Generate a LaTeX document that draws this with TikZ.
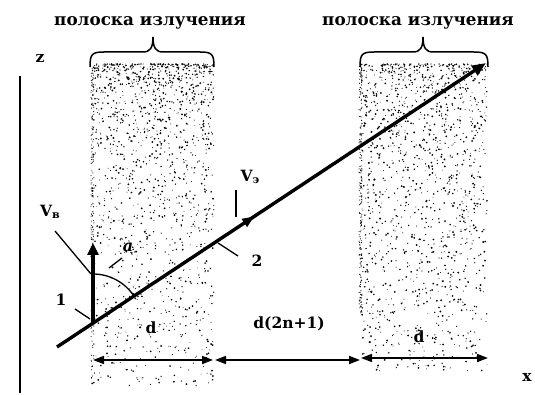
\documentclass[tikz,border=0pt]{standalone}
\usepackage{fontspec}
\setmainfont{DejaVu Serif}
\usetikzlibrary{arrows.meta,decorations.markings}
\newcommand{\mysub}[1]{\raisebox{-0.25ex}{\fontsize{11}{11}\selectfont #1}}
\begin{document}
\begin{tikzpicture}[x=1pt,y=-1pt,
  lbl/.style={font=\bfseries\fontsize{15.5}{16}\selectfont, inner sep=0pt},
  title/.style={font=\bfseries\fontsize{16.8}{17}\selectfont, inner sep=0pt},
  ptr/.style={line width=1.3pt},
  dim/.style={line width=1.6pt,{Triangle[length=11pt,width=8pt]}-{Triangle[length=11pt,width=8pt]}},
  brc/.style={line width=1.5pt}]
\useasboundingbox (0,0) rectangle (535,395);
% stippled strips
\pgfmathsetseed{11}
\foreach \i in {1,...,1400}{
  \pgfmathsetmacro\xx{92+122*rnd}
  \pgfmathsetmacro\yy{64+322*(rnd^1.9)}
  \pgfmathsetmacro\rr{0.4+0.65*rnd}
  \fill (\xx,\yy) circle (\rr pt);
}
\foreach \i in {1,...,200}{
  \pgfmathsetmacro\xx{91+3*rnd}
  \pgfmathsetmacro\yy{64+320*rnd}
  \fill (\xx,\yy) circle (0.55pt);
}
\foreach \i in {1,...,1400}{
  \pgfmathsetmacro\xx{360+127*rnd}
  \pgfmathsetmacro\yy{64+308*(rnd^1.6)}
  \pgfmathsetmacro\rr{0.4+0.65*rnd}
  \fill (\xx,\yy) circle (\rr pt);
}
\foreach \i in {1,...,200}{
  \pgfmathsetmacro\xx{359+3*rnd}
  \pgfmathsetmacro\yy{64+250*rnd}
  \fill (\xx,\yy) circle (0.55pt);
}
% titles and braces
\node[title] (t1) at (150,23) {полоска излучения};
\node[title] (t2) at (418,23) {полоска излучения};
\coordinate (b1l) at (90,67);
\coordinate (b1r) at (214,67);
\coordinate (b1t) at (153,37);
\coordinate (b2l) at (360,67);
\coordinate (b2r) at (488,67);
\coordinate (b2t) at (423,37);
\draw[brc] (b1l) .. controls ([yshift=13pt]b1l) and ([xshift=2pt,yshift=15pt]b1l) .. ([xshift=14pt,yshift=15pt]b1l)
  -- ([xshift=-10pt,yshift=-15pt]b1t) .. controls ([xshift=-3pt,yshift=-15pt]b1t) and ([yshift=-11pt]b1t) .. (b1t)
  .. controls ([yshift=-11pt]b1t) and ([xshift=3pt,yshift=-15pt]b1t) .. ([xshift=10pt,yshift=-15pt]b1t)
  -- ([xshift=-14pt,yshift=15pt]b1r) .. controls ([xshift=-2pt,yshift=15pt]b1r) and ([yshift=13pt]b1r) .. (b1r);
\draw[brc] (b2l) .. controls ([yshift=13pt]b2l) and ([xshift=2pt,yshift=15pt]b2l) .. ([xshift=14pt,yshift=15pt]b2l)
  -- ([xshift=-10pt,yshift=-15pt]b2t) .. controls ([xshift=-3pt,yshift=-15pt]b2t) and ([yshift=-11pt]b2t) .. (b2t)
  .. controls ([yshift=-11pt]b2t) and ([xshift=3pt,yshift=-15pt]b2t) .. ([xshift=10pt,yshift=-15pt]b2t)
  -- ([xshift=-14pt,yshift=15pt]b2r) .. controls ([xshift=-2pt,yshift=15pt]b2r) and ([yshift=13pt]b2r) .. (b2r);
% axes
\coordinate (zt) at (20,76);
\coordinate (zb) at (20,393);
\draw[line width=1.4pt] (zt) -- (zb);
\node[lbl] (z) at (40,58) {z};
\node[lbl] (x) at (527,377) {x};
% main line
\coordinate (s) at (57,347);
\coordinate (o) at (93,323);
\coordinate (e) at (486,63);
\draw[line width=3.4pt, -{Triangle[length=14pt,width=11pt]},
  postaction={decorate},
  decoration={markings, mark=at position 0.46 with {\arrow{Triangle[length=12pt,width=9pt]}}}]
  (s) -- (e);
% V_B arrow
\coordinate (vt) at (93,243);
\draw[line width=4.2pt, -{Triangle[length=12pt,width=11pt]}] (o) -- (vt);
% angle arc
\draw[line width=1.3pt] (o) ++(-90:49) arc (-90:-33.6:49);
% labels
\node[lbl] (vb) at (50,212) {V\mysub{в}};
\coordinate (vb1) at (55,231);
\coordinate (vb2) at (91,274);
\draw[ptr] (vb1) -- (vb2);
\node[lbl, font=\bfseries\itshape\fontsize{16}{16}\selectfont] (al) at (128,247) {a};
\coordinate (al1) at (122,258);
\coordinate (al2) at (109,268);
\draw[ptr] (al1) -- (al2);
\node[lbl] (n1) at (61,300) {1};
\coordinate (n1a) at (75,309);
\coordinate (n1b) at (90,319);
\draw[ptr] (n1a) -- (n1b);
\node[lbl] (n2) at (257,261) {2};
\coordinate (n2a) at (218,243);
\coordinate (n2b) at (238,256);
\draw[ptr] (n2a) -- (n2b);
\node[lbl] (ve) at (250,177) {V\mysub{э}};
\coordinate (vea) at (236,190);
\coordinate (veb) at (236,217);
\draw[ptr] (vea) -- (veb);
% dimensions
\coordinate (d1l) at (93,360);
\coordinate (d1r) at (213,360);
\coordinate (d2l) at (215,360);
\coordinate (d2r) at (360,360);
\coordinate (d3l) at (361,358);
\coordinate (d3r) at (488,358);
\draw[dim] (d1l) -- (d1r);
\draw[dim] (d2l) -- (d2r);
\draw[dim] (d3l) -- (d3r);
\node[lbl] (dd1) at (151,328) {d};
\node[lbl] (dd2) at (289,324) {d(2n+1)};
\node[lbl] (dd3) at (419,337) {d};
\end{tikzpicture}
\end{document}
